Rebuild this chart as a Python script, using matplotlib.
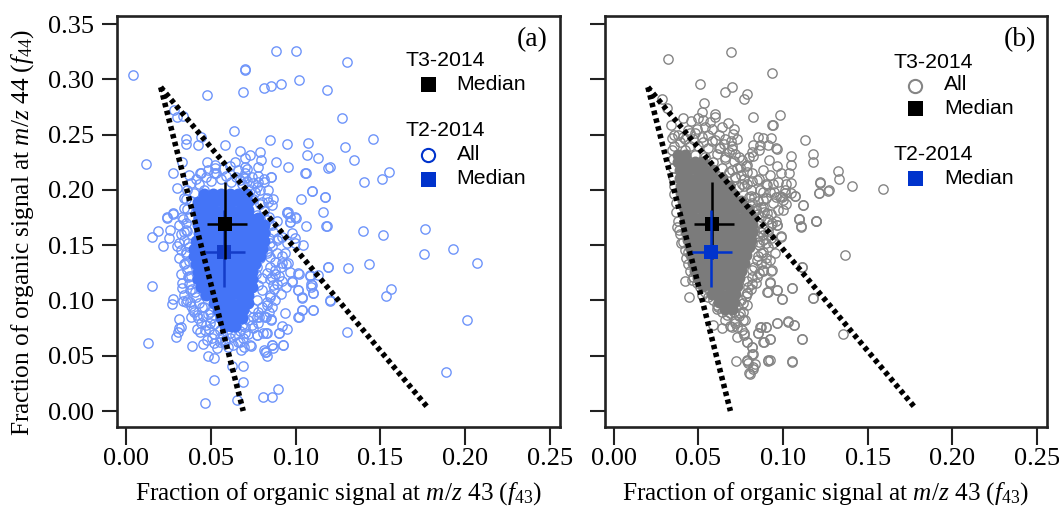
import matplotlib
matplotlib.use("Agg")
import matplotlib.pyplot as plt

plt.rcParams["font.family"] = ["Liberation Serif", "DejaVu Serif"]
plt.rcParams["mathtext.fontset"] = "custom"
plt.rcParams["mathtext.rm"] = "Liberation Serif"
plt.rcParams["mathtext.it"] = "Liberation Serif:italic"
plt.rcParams["mathtext.bf"] = "Liberation Serif:bold"

tick_values_x = [0.00, 0.05, 0.10, 0.15, 0.20, 0.25]
tick_labels_x = ["0.00", "0.05", "0.10", "0.15", "0.20", "0.25"]
tick_values_y = [0.00, 0.05, 0.10, 0.15, 0.20, 0.25, 0.30, 0.35]
tick_labels_y = ["0.00", "0.05", "0.10", "0.15", "0.20", "0.25", "0.30", "0.35"]

# triangle guide lines: apex, left foot, right foot
tri_left_x = [0.0203, 0.0690]
tri_left_y = [0.2930, 0.0000]
tri_right_x = [0.0203, 0.1785]
tri_right_y = [0.2930, 0.0020]

# medians: f43, f43 low, f43 high, f44, f44 low, f44 high
t3_median = [0.0583, 0.0475, 0.0711, 0.1690, 0.1373, 0.2070]
t2_median = [0.0577, 0.0465, 0.0701, 0.1436, 0.1120, 0.1820]

# T2-2014 individual points (f43, f44)
t2_points = [
 (.004,.304),(.0886,.326),(.1002,.3255),(.070,.309),(.0703,.3095),(.0475,.286),(.0687,.2887),(.0811,.2921),
 (.0856,.2939),(.0913,.2959),(.1019,.2995),(.1185,.2902),(.1271,.2655),(.1303,.316),(.1454,.2464),(.1293,.2386),
 (.1346,.2274),(.1203,.2205),(.1551,.2166),(.1508,.2100),(.1403,.2069),(.1059,.2150),(.0852,.2118),(.1098,.1994),
 (.1033,.1916),(.1171,.1934),(.1159,.1804),(.1181,.1674),(.1061,.1671),(.0953,.1798),(.1002,.1750),(.0966,.1707),
 (.1397,.1626),(.1517,.1593),(.1765,.1647),(.1759,.1424),(.1927,.1469),(.2070,.1336),(.1431,.1330),(.1307,.1295),
 (.1191,.1300),(.1041,.1506),(.0996,.1569),(.1564,.1104),(.1535,.1044),(.1134,.1231),(.1084,.1222),(.1018,.1243),
 (.0965,.1255),(.0980,.1170),(.1090,.1146),(.1090,.1125),(.1015,.1092),(.1104,.1068),(.1039,.1029),(.1204,.1002),
 (.1104,.0911),(.1039,.0914),(.1018,.0854),(.0937,.0885),(.2013,.0827),(.1301,.0718),(.0950,.0745),(.0917,.0771),
 (.0903,.0706),(.0856,.0827),(.0925,.0595),(.0862,.0598),(.0868,.0568),(.0813,.0553),(.0829,.0498),(.0825,.0537),
 (.0825,.0703),(.0809,.0703),(.0773,.0691),(.0738,.0591),(.1889,.0350),(.0897,.0201),(.0862,.0130),(.0805,.0130),
 (.0823,.0854),(.0785,.0854),(.0150,.1134),(.0128,.0618),(.0463,.0072),(.0520,.0281),(.0691,.0259),(.0691,.0410),
 (.0622,.0410),(.0652,.0101),(.0386,.0589),(.0292,.0666),(.0313,.0833),(.0310,.0754),(.0323,.0762),(.0307,.0718),
 (.0268,.0965),(.0274,.1011),(.0336,.0999),(.0376,.0990),(.0352,.0990),(.0329,.1110),(.0382,.0854),(.0416,.0741),
 (.0455,.0606),(.0482,.0501),(.0520,.0480),(.0537,.0573),(.0520,.0612),(.0671,.0628),(.0679,.0552),(.0697,.0577),
 (.0732,.0595),(.0819,.0537),(.0862,.0597),(.0923,.0597),(.0901,.0709),(.0770,.0691),(.0833,.0705),(.0856,.0830),
 (.1015,.0851),(.1039,.0914),(.1104,.0911),(.1204,.0999),(.1191,.1300),(.1039,.1026),(.1015,.1092),(.1104,.1068),
 (.0980,.1177),(.1015,.1246),(.1084,.1231),(.1094,.1141),(.1183,.1674),(.0185,.1632),(.0258,.1638),(.0153,.1572),
 (.0254,.1563),(.0215,.1493),(.0299,.1496),(.0238,.1750),(.0277,.1783),(.0336,.1737),(.0340,.1623),(.0351,.1436),
 (.0340,.1330),(.0370,.1222),(.0116,.2238),(.0277,.2156),(.0297,.2015),(.0340,.1927),(.0238,.1758),(.0277,.1795),
 (.0283,.2724),(.0297,.2659),(.0337,.2665),(.0441,.2483),(.0352,.2459),(.0352,.2417),(.0421,.2408),(.0581,.2408),
 (.0638,.2537),(.0848,.2450),(.0950,.2416),(.1071,.2428),(.1065,.2314),(.1132,.2290),(.1192,.2203),(.1057,.2156),
 (.0953,.2205),(.0882,.2257),(.0791,.2347),(.0669,.2356),(.0794,.2275),(.0779,.2205),(.0727,.2314),(.0701,.2287),
 (.0642,.2257),(.0475,.2254),(.0525,.2229),(.0525,.2198),(.0520,.2152),(.0331,.2254),(.0370,.2139),(.0435,.2152),
 (.0715,.2187),(.0701,.2211),(.0691,.2120),(.0779,.2129),(.0852,.2120),(.1098,.1991),(.1173,.1937),(.0868,.1916),
 (.0838,.1894),(.0950,.1804),(.0993,.1753),(.0838,.1997),(.0789,.1997),(.0750,.2060),(.0815,.2075),(.0779,.2075),
 (.0701,.2106),(.0671,.2090),(.0868,.1623),(.0897,.1563),(.0848,.1517),(.0888,.1427),(.0937,.1427),(.0917,.1336),
 (.0957,.1336),(.0828,.1427),(.0848,.1306),(.0828,.1246),(.0858,.1216),(.0878,.1276),(.0868,.1141),(.0848,.1034),
 (.0828,.0960),(.0799,.1095),(.0769,.1005),(.0750,.0930),(.0769,.0855),(.0819,.0855),(.0740,.0778),(.0701,.0703),
 (.0681,.0778),(.0642,.0763),(.0612,.0703),(.0583,.0643),(.0553,.0628),(.0504,.0658),(.0475,.0643),(.0435,.0718),
 (.0465,.0733),(.0495,.0793),(.0455,.0860),(.0416,.0869),(.0396,.0914),(.0445,.0944),(.0495,.0899),(.0406,.1080),
 (.0376,.1095),(.0366,.1216),(.0346,.1336),(.0366,.1517),(.0352,.1638),(.0966,.1713),(.0976,.1608),(.0996,.1517),
 (.0947,.1517),(.0917,.1578),(.0966,.1758),(.0947,.1789),(.0769,.1774),(.0828,.1729),(.0844,.1683),(.0800,.1650),
 (.0780,.1560),(.0810,.1480),(.0790,.1380),(.0770,.1300),(.0800,.1200),(.0780,.1140),(.0765,.1240),
 (.043,.205),(.047,.212),(.050,.208),(.053,.215),(.056,.210),(.059,.213),(.062,.207),(.065,.212),(.068,.205),
 (.071,.208),(.074,.212),(.077,.203),(.046,.200),(.040,.197),(.038,.190),(.036,.183),(.037,.176),(.035,.170),
 (.036,.163),(.034,.155),(.037,.148),(.035,.142),(.037,.136),(.036,.128),(.038,.122),(.037,.115),(.039,.110),
 (.041,.103),(.043,.098),(.046,.094),(.048,.088),(.050,.084),(.052,.079),(.055,.073),(.057,.069),(.061,.066),
 (.064,.069),(.067,.072),(.070,.076),(.072,.082),(.075,.085),(.078,.090),(.080,.094),(.083,.099),(.085,.105),
 (.087,.110),(.089,.115),(.085,.119),(.088,.124),(.091,.130),(.088,.135),(.085,.139),(.083,.145),(.086,.149),
 (.089,.155),(.084,.157),(.082,.162),(.086,.168),(.089,.172),(.084,.176),(.081,.181),(.086,.186),(.080,.189),
 (.083,.193),(.076,.198),(.079,.187),(.075,.192),(.092,.140),(.094,.133),(.090,.122),(.092,.118),(.094,.112),
 (.091,.106),(.088,.100),(.086,.094),(.084,.090),(.081,.086),(.078,.080),(.075,.075),(.072,.070),(.069,.066),
 (.066,.062),(.063,.060),(.060,.058),(.058,.062),(.055,.066),(.052,.070),(.049,.074),(.047,.078),(.044,.080),
 (.042,.084),(.040,.090),(.038,.095),(.036,.100),(.034,.105),(.033,.116),(.032,.124),(.031,.138),(.032,.146),
 (.031,.152),(.032,.160),(.031,.168),(.033,.176),(.034,.184),(.035,.192),(.036,.200),(.038,.206),(.041,.210),
 (.044,.215),(.048,.218),(.057,.219),(.061,.222),(.066,.218),(.070,.215),(.073,.200),(.081,.210),
]

# T2-2014 dense overlapping core, read as rows: f44, then f43 values
t2_core = [
 (.196,[.046,.051,.056,.061,.066,.071]),
 (.189,[.042,.047,.052,.057,.062,.067,.072]),
 (.182,[.042,.047,.052,.057,.062,.067,.072]),
 (.175,[.043,.048,.053,.058,.063,.068,.073,.078]),
 (.168,[.042,.047,.052,.057,.062,.067,.072,.077,.081]),
 (.161,[.043,.048,.053,.058,.063,.068,.073,.078,.081]),
 (.154,[.041,.046,.051,.056,.061,.066,.071,.076,.081]),
 (.147,[.040,.045,.050,.055,.060,.065,.070,.075,.080]),
 (.140,[.040,.045,.050,.055,.060,.065,.070,.075,.079]),
 (.133,[.041,.046,.051,.056,.061,.066,.071,.076]),
 (.126,[.042,.047,.052,.057,.062,.067,.072,.074]),
 (.119,[.042,.047,.052,.057,.062,.067,.071,.074]),
 (.112,[.044,.049,.054,.059,.064,.069,.074]),
 (.105,[.047,.052,.057,.062,.067,.072]),
 (.098,[.052,.057,.062,.067,.072]),
 (.091,[.054,.059,.064,.069]),
 (.084,[.056,.061,.066,.068]),
 (.077,[.058,.062,.064]),
]

# T3-2014 individual points (f43, f44)
t3_points = [
 (.0323,.3186),(.0692,.3245),(.0937,.3062),(.0511,.2959),(.0701,.2935),(.0658,.2890),(.0786,.2866),(.0772,.2823),
 (.0536,.2785),(.0286,.2821),(.0313,.2740),(.0520,.2703),(.0599,.2688),(.0599,.2658),(.0408,.2649),(.0456,.2624),
 (.0497,.2649),(.0530,.2633),(.0570,.2618),(.0823,.2658),(.0985,.2676),(.0938,.2588),(.0943,.2591),(.0678,.2603),
 (.0638,.2574),(.0711,.2550),(.0703,.2507),(.0731,.2459),(.0694,.2444),(.0339,.2588),(.0347,.2468),(.0343,.2362),
 (.1132,.2455),(.1180,.2323),(.1176,.2257),(.1046,.2308),(.1046,.2226),(.0932,.2474),(.0881,.2474),(.0855,.2483),
 (.0967,.2368),(.0957,.2377),(.0914,.2407),(.0865,.2407),(.0861,.2362),(.0825,.2407),(.0815,.2347),(.0825,.2308),
 (.0802,.2302),(.0717,.2326),(.0757,.2272),(.0786,.2226),(.0916,.2272),(.0963,.2217),(.0884,.2181),(.0987,.2151),
 (.1036,.2156),(.0924,.2136),(.1219,.2066),(.1213,.1969),(.1268,.1993),(.1048,.2060),(.1018,.2054),(.0973,.2075),
 (.1071,.1946),(.1117,.1867),(.0999,.1910),(.1012,.1970),(.0992,.1940),(.0957,.1940),(.0904,.2045),(.0845,.2090),
 (.0815,.2084),(.0786,.2166),(.0747,.2211),(.0717,.2120),(.0865,.1998),(.0924,.1985),(.0884,.1910),(.1095,.1738),
 (.1195,.1720),(.1593,.2006),(.1408,.2033),(.1323,.2172),(.1333,.2100),(.1221,.2070),(.1274,.1997),(.1213,.1970),
 (.1194,.1717),(.1093,.1738),(.1107,.1671),(.1368,.1415),(.1117,.1867),(.1072,.1946),(.0987,.1581),(.0963,.1683),
 (.1111,.1306),(.0928,.1264),(.0885,.1270),(.0924,.1161),(.0908,.1074),(.0963,.1095),(.1052,.1113),(.0993,.1010),
 (.1176,.1026),(.0786,.0959),(.0786,.1065),(.1028,.0812),(.1066,.0775),(.0963,.0793),(.0900,.0763),(.0869,.0763),
 (.0851,.0703),(.1111,.0651),(.0924,.0651),(.0888,.0621),(.1357,.0700),(.1052,.0453),(.0921,.0462),(.0912,.0456),
 (.0816,.0582),(.0819,.0516),(.0786,.0462),(.0835,.0426),(.0825,.0378),(.0806,.0335),(.0796,.0432),(.0767,.0824),
 (.0771,.0703),(.0790,.0628),(.0757,.0733),(.0767,.0899),(.0377,.1668),(.0389,.1638),(.0412,.1533),(.0442,.1442),
 (.0422,.1176),(.0448,.1034),(.0461,.1186),(.0521,.1050),(.0589,.0779),(.0639,.0748),(.0609,.0920),(.0619,.0944),
 (.0698,.0763),(.0727,.0673),(.0772,.0688),(.0786,.0628),(.0815,.0582),(.0821,.0516),(.0721,.0456),(.0786,.0456),
 (.0904,.1789),(.0934,.1698),(.0963,.1683),(.0989,.1578),(.0944,.1518),(.0914,.1593),(.0884,.1548),(.0953,.1427),
 (.0924,.1367),(.0934,.1276),(.0884,.1276),(.0845,.1367),(.0815,.1276),(.0845,.1216),(.0796,.1125),(.0786,.1065),
 (.0766,.0974),(.0776,.0823),(.0747,.0883),(.0717,.0793),(.0688,.0883),(.0727,.0763),(.0924,.1165),(.0963,.1095),
 (.0910,.1074),(.0993,.1014),(.1052,.1110),(.1176,.1026),(.1115,.1306),(.1107,.1668),(.1095,.1737),(.1195,.1720),
 (.0963,.0793),(.1028,.0809),(.1066,.0778),(.1111,.0652),(.0900,.0763),(.0865,.0763),(.0853,.0703),(.0924,.0652),
 (.0884,.0622),(.1052,.0447),(.0914,.0462),(.0800,.0340),(.0825,.0400),(.0880,.1850),(.0850,.1780),(.0860,.1700),
 (.0880,.1650),(.0860,.1500),(.0870,.1430),(.0840,.1820),(.0810,.1950),(.0770,.2040),(.0740,.2030),(.0700,.2180),
 (.0660,.2300),(.0620,.2380),(.0600,.2450),(.0560,.2500),(.0520,.2480),(.0480,.2520),(.0440,.2540),(.0410,.2480),
 (.0380,.2500),(.0700,.2370),(.0650,.2420),(.0800,.1830),(.0820,.1880),(.0900,.1520),(.0900,.1340),(.0820,.1150),
 (.036,.250),(.039,.243),(.042,.246),(.045,.240),(.047,.246),(.050,.240),(.053,.243),(.056,.238),(.058,.244),
 (.061,.233),(.063,.238),(.066,.228),(.068,.234),(.071,.226),(.073,.220),(.075,.214),(.077,.210),(.079,.205),
 (.081,.200),(.083,.194),(.085,.190),(.087,.185),(.089,.180),(.091,.174),(.093,.168),(.091,.163),(.088,.159),
 (.093,.157),(.086,.153),(.091,.148),(.088,.144),(.085,.140),(.090,.138),(.087,.133),(.083,.130),(.086,.125),
 (.082,.121),(.079,.118),(.084,.116),(.081,.110),(.078,.104),(.075,.100),(.073,.095),(.071,.090),(.074,.086),
 (.072,.081),(.069,.077),(.066,.082),(.067,.087),(.064,.090),(.061,.096),(.059,.100),(.056,.103),(.054,.108),
 (.051,.112),(.049,.116),(.047,.121),(.045,.127),(.044,.133),(.043,.138),(.042,.146),(.040,.152),(.039,.160),
 (.038,.172),(.037,.180),(.037,.188),(.036,.196),(.036,.204),(.035,.212),(.035,.220),(.035,.228),(.036,.240),
 (.042,.236),(.048,.232),(.054,.230),(.059,.225),(.064,.220),(.068,.216),(.072,.212),(.076,.205),(.080,.194),
 (.084,.184),(.087,.176),(.085,.170),(.083,.165),(.087,.162),(.085,.158),(.082,.152),(.090,.193),(.094,.188),
 (.097,.182),(.093,.178),(.096,.172),(.090,.205),(.094,.205),(.086,.210),(.082,.215),(.078,.222),(.074,.230),
 (.070,.240),(.066,.246),(.062,.250),(.058,.255),(.054,.257),(.049,.255),(.045,.252),(.100,.182),(.102,.187),
 (.098,.195),(.095,.198),(.088,.198),(.101,.200),(.105,.197),
]

# T3-2014 dense overlapping core, read as rows: f44, then f43 values
t3_core = [
 (.232,[.038,.042]),
 (.225,[.038,.043,.048,.053]),
 (.218,[.039,.044,.049,.054,.059]),
 (.211,[.039,.044,.049,.054,.059,.064]),
 (.204,[.040,.045,.050,.055,.060,.065,.068]),
 (.197,[.040,.045,.050,.055,.060,.065,.070]),
 (.190,[.041,.046,.051,.056,.061,.066,.071,.075]),
 (.183,[.042,.047,.052,.057,.062,.067,.072,.077,.079]),
 (.176,[.042,.047,.052,.057,.062,.067,.072,.077,.081]),
 (.169,[.042,.047,.052,.057,.062,.067,.072,.077,.082]),
 (.162,[.043,.048,.053,.058,.063,.068,.073,.078,.082]),
 (.155,[.044,.049,.054,.059,.064,.069,.074,.079,.081]),
 (.148,[.045,.050,.055,.060,.065,.070,.075,.080]),
 (.141,[.046,.051,.056,.061,.066,.071,.076,.078]),
 (.134,[.047,.052,.057,.062,.067,.072,.077]),
 (.127,[.048,.053,.058,.063,.068,.073,.075]),
 (.120,[.050,.055,.060,.065,.070,.074]),
 (.113,[.053,.058,.063,.068,.073]),
 (.106,[.058,.063,.068,.072]),
 (.099,[.062,.067,.071]),
 (.092,[.066,.070]),
]

W, H = 1059, 508
fig = plt.figure(figsize=(W / 100, H / 100), dpi=100)


def make_axes(left, right, top, bottom):
    return fig.add_axes([left / W, (H - bottom) / H, (right - left) / W, (bottom - top) / H])


def style(ax, xlim, show_y):
    ax.set_xlim(*xlim)
    ax.set_ylim(-0.0142, 0.3577)
    ax.set_xticks(tick_values_x, tick_labels_x)
    ax.set_yticks(tick_values_y, tick_labels_y if show_y else [""] * len(tick_values_y))
    ax.tick_params(axis="x", length=13, width=1.5, labelsize=19, pad=2, color="#222222")
    ax.tick_params(axis="y", length=11, width=1.5, labelsize=19, pad=5, color="#222222")
    for s in ax.spines.values():
        s.set_linewidth(1.9)
        s.set_color("#222222")
    ax.set_xlabel(r"Fraction of organic signal at $\mathit{m/z}$ 43 ($\mathit{f}_{43}$)", fontsize=18.2, labelpad=8)


def guides(ax):
    for xs, ys in ((tri_left_x, tri_left_y), (tri_right_x, tri_right_y)):
        ax.plot(xs, ys, color="black", lw=4, dashes=(0.8, 0.65), dash_capstyle="butt", zorder=5)


def median(ax, m, color, size, z):
    ax.errorbar([m[0]], [m[3]], xerr=[[m[0] - m[1]], [m[2] - m[0]]], yerr=[[m[3] - m[4]], [m[5] - m[3]]],
                fmt="s", color=color, ms=size, mew=0, elinewidth=1.8, capsize=4, capthick=1.8, zorder=z)


def split(points):
    return [p[0] for p in points], [p[1] for p in points]


def flatten(rows):
    return [x for _, xs in rows for x in xs], [y for y, xs in rows for _ in xs]


def rings(ax, points, color):
    xs, ys = split(points)
    ax.plot(xs, ys, ls="none", marker="o", ms=6.7, mfc="none", mec=color, mew=1.0, zorder=2)


def core(ax, rows, color):
    xs, ys = flatten(rows)
    ax.plot(xs, ys, ls="none", marker="o", ms=8.6, mfc=color, mec=color, mew=0, zorder=3)


def fig_text(px, py, s, **kw):
    fig.text(px / W, (H - py) / H, s, family=["Liberation Sans", "DejaVu Sans"], fontsize=15.3, va="center", **kw)


def fig_mark(px, py, **kw):
    fig.add_artist(plt.Line2D([px / W], [(H - py) / H], ls="none", transform=fig.transFigure, **kw))


BLUE = "#0033cc"

# panel a
ax1 = make_axes(116.7, 559.5, 15.7, 426.7)
rings(ax1, t2_points, "#6f95fa")
core(ax1, t2_core, "#4474f7")
guides(ax1)
median(ax1, t2_median, "#143cc8", 10.5, 6)
median(ax1, t3_median, "black", 10.5, 7)
style(ax1, (-0.0057, 0.2557), True)
ax1.set_ylabel(r"Fraction of organic signal at $\mathit{m/z}$ 44 ($\mathit{f}_{44}$)", fontsize=18.2)
ax1.yaxis.set_label_coords(-0.182, 0.4737)
fig.text(532 / W, (H - 40) / H, "(a)", fontsize=20, ha="center", va="center")

fig_text(406, 60, "T3-2014")
fig_mark(428, 84, marker="s", ms=10.8, mfc="black", mec="black", mew=0)
fig_text(456, 84, "Median")
fig_text(406, 131, "T2-2014")
fig_mark(428, 155, marker="o", ms=9.5, mfc="none", mec=BLUE, mew=1.5)
fig_text(457, 155, "All")
fig_mark(428, 179, marker="s", ms=10.8, mfc=BLUE, mec=BLUE, mew=0)
fig_text(456, 179, "Median")

# panel b
ax2 = make_axes(604.7, 1046.7, 15.7, 426.7)
rings(ax2, t3_points, "#858585")
core(ax2, t3_core, "#7b7b7b")
guides(ax2)
median(ax2, t3_median, "black", 10.5, 6)
median(ax2, t2_median, BLUE, 10.5, 7)
style(ax2, (-0.0052, 0.2557), False)
fig.text(1020 / W, (H - 40) / H, "(b)", fontsize=20, ha="center", va="center")

fig_text(893, 62, "T3-2014")
fig_mark(915, 86, marker="o", ms=9.5, mfc="none", mec="#858585", mew=1.5)
fig_text(944, 85, "All")
fig_mark(915, 108, marker="s", ms=10.8, mfc="black", mec="black", mew=0)
fig_text(944, 108, "Median")
fig_text(893, 154, "T2-2014")
fig_mark(915, 178, marker="s", ms=10.8, mfc=BLUE, mec=BLUE, mew=0)
fig_text(944, 178, "Median")

fig.savefig("out.png", dpi=100)
